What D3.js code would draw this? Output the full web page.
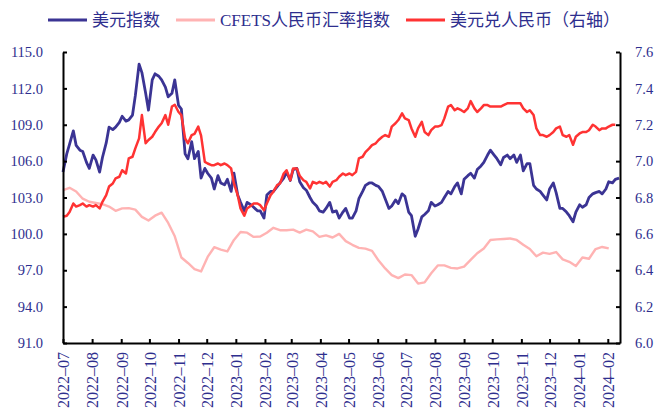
<!DOCTYPE html>
<html>
<head>
<meta charset="utf-8">
<script src="https://cdn.jsdelivr.net/npm/d3@7"></script>
<style>
  body { margin: 0; background: #fff; }
  svg { display: block; }
</style>
</head>
<body>
<svg width="656" height="416"></svg>
<script>
// sample dates (Tue / Fri)
const dates = [
  '2022-07-01','2022-07-05','2022-07-08','2022-07-12','2022-07-15','2022-07-19','2022-07-22','2022-07-26','2022-07-29',
  '2022-08-02','2022-08-05','2022-08-09','2022-08-12','2022-08-16','2022-08-19','2022-08-23','2022-08-26','2022-08-30',
  '2022-09-02','2022-09-06','2022-09-09','2022-09-13','2022-09-16','2022-09-20','2022-09-23','2022-09-27','2022-09-30',
  '2022-10-04','2022-10-07','2022-10-11','2022-10-14','2022-10-18','2022-10-21','2022-10-25','2022-10-28',
  '2022-11-01','2022-11-04','2022-11-08','2022-11-11','2022-11-15','2022-11-18','2022-11-22','2022-11-25','2022-11-29',
  '2022-12-02','2022-12-06','2022-12-09','2022-12-13','2022-12-16','2022-12-20','2022-12-23','2022-12-27','2022-12-30',
  '2023-01-03','2023-01-06','2023-01-10','2023-01-13','2023-01-17','2023-01-20','2023-01-24','2023-01-27','2023-01-31',
  '2023-02-03','2023-02-07','2023-02-10','2023-02-14','2023-02-17','2023-02-21','2023-02-24','2023-02-28',
  '2023-03-03','2023-03-07','2023-03-10','2023-03-14','2023-03-17','2023-03-21','2023-03-24','2023-03-28','2023-03-31',
  '2023-04-04','2023-04-07','2023-04-11','2023-04-14','2023-04-18','2023-04-21','2023-04-25','2023-04-28',
  '2023-05-02','2023-05-05','2023-05-09','2023-05-12','2023-05-16','2023-05-19','2023-05-23','2023-05-26','2023-05-30',
  '2023-06-02','2023-06-06','2023-06-09','2023-06-13','2023-06-16','2023-06-20','2023-06-23','2023-06-27','2023-06-30',
  '2023-07-04','2023-07-07','2023-07-11','2023-07-14','2023-07-18','2023-07-21','2023-07-25','2023-07-28',
  '2023-08-01','2023-08-04','2023-08-08','2023-08-11','2023-08-15','2023-08-18','2023-08-22','2023-08-25','2023-08-29',
  '2023-09-01','2023-09-05','2023-09-08','2023-09-12','2023-09-15','2023-09-19','2023-09-22','2023-09-26','2023-09-29',
  '2023-10-03','2023-10-06','2023-10-10','2023-10-13','2023-10-17','2023-10-20','2023-10-24','2023-10-27','2023-10-31',
  '2023-11-03','2023-11-07','2023-11-10','2023-11-14','2023-11-17','2023-11-21','2023-11-24','2023-11-28',
  '2023-12-01','2023-12-05','2023-12-08','2023-12-12','2023-12-15','2023-12-19','2023-12-22','2023-12-26','2023-12-29',
  '2024-01-02','2024-01-05','2024-01-09','2024-01-12','2024-01-16','2024-01-19','2024-01-23','2024-01-26','2024-01-30',
  '2024-02-02','2024-02-06','2024-02-09','2024-02-13'
];

// 美元指数 (left axis)
const dxy = [
  105.1, 106.6, 107.4, 108.5, 107.3, 106.9, 106.8, 105.9, 105.4, 106.5,
  106.1, 105.1, 106.3, 107.5, 108.8, 108.6, 108.8, 109.2, 109.7, 109.3,
  109.4, 109.8, 111.4, 114.0, 113.3, 111.6, 110.2, 112.7, 113.2, 113.0,
  112.7, 112.1, 111.3, 111.6, 112.7, 110.6, 110.3, 106.6, 106.2, 107.6,
  106.2, 106.8, 104.6, 105.4, 105.0, 104.6, 103.7, 104.8, 104.2, 104.05,
  104.5, 103.5, 105.0, 103.2, 102.6, 101.9, 102.6, 102.4, 102.2, 101.9, 101.9,
  101.3, 103.2, 103.5, 103.5, 103.9, 104.2, 104.6, 105.1, 104.4, 105.3,
  105.4, 104.3, 103.8, 103.6, 103.0, 102.6, 102.3, 101.9, 101.8, 102.1,
  102.6, 101.8, 101.9, 101.3, 101.8, 102.1, 101.3, 101.3, 101.9, 102.9,
  103.5, 104.0, 104.2, 104.2, 104.0, 103.9, 103.5, 102.9, 102.1, 102.3,
  102.8, 102.5, 103.3, 103.1, 101.8, 101.5, 99.8, 100.4, 101.4, 101.6,
  101.9, 102.6, 102.3, 102.4, 102.6, 103.0, 103.5, 103.3, 103.9, 104.2, 103.3,
  104.5, 104.8, 105.0, 104.6, 105.3, 105.6, 105.9, 106.5, 106.9, 106.5,
  106.2, 105.7, 106.3, 106.5, 106.2, 106.5, 105.9, 106.5, 105.2, 105.8,
  105.8, 104.0, 103.7, 103.5, 103.2, 102.8, 103.7, 104.2, 103.4, 102.1,
  102.1, 101.8, 101.5, 101.0, 101.8, 102.4, 102.2, 102.4, 103.0, 103.3,
  103.4, 103.5, 103.3, 103.7, 104.3, 104.2, 104.5, 104.6
];

// 美元兑人民币 (right axis)
const usdcny = [
  6.694, 6.700, 6.720, 6.767, 6.750, 6.758, 6.767, 6.750, 6.758, 6.750,
  6.758, 6.740, 6.776, 6.813, 6.860, 6.877, 6.905, 6.914, 6.950, 6.932,
  7.015, 7.024, 7.070, 7.125, 7.253, 7.098, 7.116, 7.134, 7.160, 7.190,
  7.208, 7.253, 7.200, 7.300, 7.310, 7.270, 7.253, 7.125, 7.098, 7.143,
  7.150, 7.190, 7.140, 6.996, 6.987, 6.978, 6.978, 6.987, 6.978, 6.987,
  6.978, 6.960, 6.877, 6.813, 6.740, 6.700, 6.740, 6.755, 6.767, 6.767, 6.758,
  6.730, 6.767, 6.813, 6.832, 6.868, 6.877, 6.932, 6.950, 6.895, 6.960,
  6.960, 6.920, 6.895, 6.886, 6.850, 6.886, 6.877, 6.886, 6.877, 6.886,
  6.860, 6.886, 6.895, 6.914, 6.932, 6.923, 6.932, 6.923, 6.941, 7.015,
  7.024, 7.050, 7.070, 7.088, 7.098, 7.116, 7.134, 7.143, 7.134, 7.190,
  7.208, 7.226, 7.263, 7.235, 7.226, 7.180, 7.134, 7.180, 7.216, 7.160,
  7.143, 7.170, 7.190, 7.190, 7.198, 7.235, 7.300, 7.308, 7.280, 7.290, 7.280,
  7.270, 7.290, 7.330, 7.290, 7.270, 7.290, 7.308, 7.308, 7.300, 7.300,
  7.300, 7.300, 7.308, 7.318, 7.318, 7.318, 7.318, 7.318, 7.290, 7.270,
  7.280, 7.253, 7.180, 7.143, 7.143, 7.134, 7.143, 7.160, 7.180, 7.190,
  7.143, 7.134, 7.143, 7.090, 7.134, 7.152, 7.160, 7.160, 7.170, 7.200,
  7.190, 7.170, 7.180, 7.180, 7.190, 7.200, 7.200, null
];

// CFETS人民币汇率指数 (left axis), weekly, on the Friday dates
const cfets = [
  103.6, 103.8, 103.5, 102.9, 102.65, 102.55, 102.45, 102.25, 101.9, 102.1,
  102.12, 102.0, 101.4, 101.1, 101.5, 101.75, 100.9, 99.8, 98.05, 97.6,
  97.1, 96.9, 98.1, 98.9, 98.7, 98.55, 99.5, 100.15, 100.1, 99.75,
  99.78, 100.1, 100.5, 100.3, 100.3, 100.35, 100.1, 100.35, 100.2, 99.75,
  99.88, 99.7, 100.0, 99.4, 99.1, 98.85, 98.78, 98.6, 97.8, 97.15,
  96.6, 96.35, 96.65, 96.6, 95.9, 96.0, 96.75, 97.4, 97.4, 97.2,
  97.15, 97.3, 97.85, 98.4, 98.8, 99.5, 99.55, 99.58, 99.62, 99.5,
  99.1, 98.75, 98.15, 98.45, 98.35, 98.5, 97.9, 97.7, 97.35, 98.05,
  97.95, 98.75, 98.92, 98.8
];

const leftTicks = [91, 94, 97, 100, 103, 106, 109, 112, 115];
const rightTicks = [6.0, 6.2, 6.4, 6.6, 6.8, 7.0, 7.2, 7.4, 7.6];

const series = [
  { name: '美元指数', color: '#3b3494', lx: 48 },
  { name: 'CFETS人民币汇率指数', color: '#ffb3b3', lx: 176 },
  { name: '美元兑人民币（右轴）', color: '#ff3333', lx: 406 }
];

const textColor = '#2e2e8e';
const latin = '"Liberation Serif", "Times New Roman", serif';
const parse = d3.timeParse('%Y-%m-%d');
const days = dates.map(parse);
const fridays = days.filter((d, i) => i % 2 === 0);

const svg = d3.select('svg');
const margin = { left: 63, right: 36, top: 52, bottom: 73 };
const W = 656, H = 416;

const x = d3.scaleTime()
  .domain([new Date(2022, 6, 1), new Date(2024, 1, 14)])
  .range([margin.left, W - margin.right]);
const yL = d3.scaleLinear().domain([91, 115]).range([H - margin.bottom, margin.top]);
const yR = d3.scaleLinear().domain([6.0, 7.6]).range([H - margin.bottom, margin.top]);

// Lines
const lineL = d3.line().defined(d => d[1] != null).x(d => x(d[0])).y(d => yL(d[1]));
const lineR = d3.line().defined(d => d[1] != null).x(d => x(d[0])).y(d => yR(d[1]));

const plot = svg.append('g').attr('fill', 'none').attr('stroke-linejoin', 'round');

plot.append('path')
  .attr('d', lineL(days.map((d, i) => [d, dxy[i]])))
  .attr('stroke', series[0].color)
  .attr('stroke-width', 2.8);

plot.append('path')
  .attr('d', lineL(fridays.map((d, i) => [d, cfets[i]])))
  .attr('stroke', series[1].color)
  .attr('stroke-width', 2.4);

plot.append('path')
  .attr('d', lineR(days.map((d, i) => [d, usdcny[i]])))
  .attr('stroke', series[2].color)
  .attr('stroke-width', 2.5);

// Axes
function styleAxis(g) {
  g.select('.domain').attr('stroke', '#000').attr('stroke-width', 2);
  g.selectAll('.tick line').attr('stroke', '#000').attr('stroke-width', 2);
  g.selectAll('.tick text')
    .attr('fill', textColor)
    .style('font-family', latin)
    .style('font-size', '14.5px');
}

svg.append('g')
  .attr('transform', `translate(${margin.left},0)`)
  .call(d3.axisLeft(yL).tickValues(leftTicks).tickFormat(d3.format('.1f'))
    .tickSizeInner(-4).tickSizeOuter(0).tickPadding(20))
  .call(styleAxis);

svg.append('g')
  .attr('transform', `translate(${W - margin.right},0)`)
  .call(d3.axisRight(yR).tickValues(rightTicks).tickFormat(d3.format('.1f'))
    .tickSizeInner(-4).tickSizeOuter(0).tickPadding(15))
  .call(styleAxis);

const xAxis = svg.append('g')
  .attr('transform', `translate(0,${H - margin.bottom})`)
  .call(d3.axisBottom(x).ticks(d3.timeMonth.every(1)).tickFormat(d3.timeFormat('%Y–%m'))
    .tickSizeInner(-4).tickSizeOuter(0))
  .call(styleAxis);

xAxis.selectAll('.tick text')
  .attr('transform', 'rotate(-90)')
  .attr('x', -9)
  .attr('y', 0)
  .attr('dy', '0.36em')
  .attr('text-anchor', 'end')
  .style('font-size', '16px');

// Legend
const legend = svg.append('g').selectAll('g')
  .data(series)
  .enter()
  .append('g')
  .attr('transform', d => `translate(${d.lx},20)`);

legend.append('line')
  .attr('x1', 0).attr('x2', 39)
  .attr('stroke', d => d.color)
  .attr('stroke-width', 3);

legend.append('text')
  .attr('x', 44)
  .attr('dy', '0.36em')
  .attr('fill', textColor)
  .style('font-family', `${latin}, "Noto Sans CJK SC"`)
  .style('font-size', '17px')
  .text(d => d.name);
</script>
</body>
</html>
